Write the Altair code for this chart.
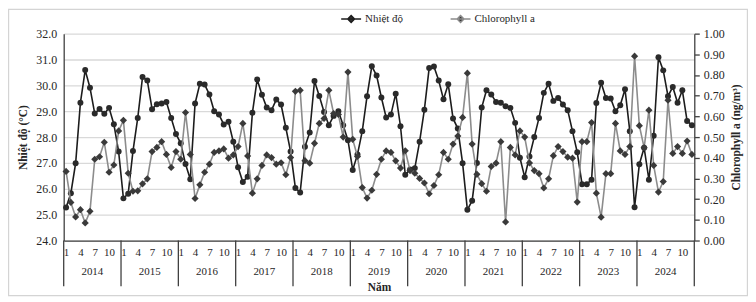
import altair as alt
import pandas as pd

years = ["2014", "2015", "2016", "2017", "2018", "2019", "2020", "2021", "2022", "2023", "2024"]
month_ticks = [1, 4, 7, 10]

# Nhiệt độ (°C), monthly Jan 2014 - Dec 2024
nhiet_do = [
    25.28, 25.83, 26.99, 29.33, 30.59, 29.91, 28.91, 29.09, 28.90, 29.13, 28.50, 27.44,
    25.63, 25.81, 27.46, 28.74, 30.32, 30.19, 29.08, 29.27, 29.30, 29.36, 28.74, 28.12,
    27.76, 26.96, 26.37, 29.30, 30.06, 30.03, 29.65, 29.00, 28.87, 28.49, 28.59, 27.82,
    26.83, 26.26, 26.47, 28.94, 30.23, 29.64, 29.14, 29.04, 29.45, 29.26, 28.36, 27.44,
    26.03, 25.86, 27.63, 28.18, 30.17, 29.59, 28.97, 28.46, 28.82, 29.00, 28.46, 27.88,
    26.73, 27.33, 28.23, 29.58, 30.74, 30.38, 29.53, 28.76, 28.87, 29.68, 28.42, 26.54,
    26.75, 26.80, 27.82, 29.06, 30.67, 30.73, 30.19, 29.46, 30.04, 28.72, 28.33, 26.99,
    25.19, 25.54, 27.00, 29.14, 29.81, 29.65, 29.36, 29.33, 29.19, 29.13, 28.55, 27.20,
    26.45, 27.25, 28.00, 28.74, 29.71, 30.06, 29.40, 29.51, 29.26, 29.04, 28.23, 27.41,
    26.18, 26.18, 26.35, 29.32, 30.10, 29.51, 29.49, 29.00, 29.23, 29.85, 28.23, 25.29,
    26.95, 27.59, 26.35, 28.05, 31.09, 30.58, 29.58, 29.94, 29.33, 29.81, 28.62, 28.46,
]

# Chlorophyll a (ng/m3), monthly Jan 2014 - Dec 2024
chlorophyll = [
    0.334, 0.184, 0.114, 0.149, 0.085, 0.141, 0.393, 0.405, 0.475, 0.330, 0.365, 0.530,
    0.581, 0.325, 0.238, 0.240, 0.274, 0.298, 0.430, 0.450, 0.478, 0.416, 0.353, 0.430,
    0.393, 0.619, 0.416, 0.203, 0.269, 0.330, 0.369, 0.426, 0.433, 0.443, 0.398, 0.414,
    0.454, 0.566, 0.409, 0.229, 0.298, 0.363, 0.414, 0.401, 0.369, 0.376, 0.318, 0.401,
    0.721, 0.726, 0.386, 0.374, 0.470, 0.566, 0.590, 0.726, 0.614, 0.609, 0.500, 0.814,
    0.489, 0.406, 0.256, 0.205, 0.243, 0.320, 0.393, 0.433, 0.426, 0.385, 0.350, 0.434,
    0.338, 0.325, 0.300, 0.278, 0.226, 0.266, 0.318, 0.426, 0.393, 0.466, 0.505, 0.595,
    0.809, 0.466, 0.320, 0.275, 0.238, 0.358, 0.374, 0.478, 0.090, 0.450, 0.414, 0.530,
    0.500, 0.375, 0.338, 0.323, 0.254, 0.298, 0.410, 0.454, 0.430, 0.403, 0.398, 0.186,
    0.478, 0.478, 0.570, 0.229, 0.113, 0.323, 0.323, 0.566, 0.433, 0.416, 0.454, 0.891,
    0.555, 0.449, 0.630, 0.363, 0.234, 0.285, 0.678, 0.421, 0.454, 0.421, 0.481, 0.416,
]

temp_ticks = [24, 25, 26, 27, 28, 29, 30, 31, 32]
chl_ticks = [0.0, 0.1, 0.2, 0.3, 0.4, 0.5, 0.6, 0.7, 0.8, 0.9, 1.0]
series_names = ["Nhiệt độ", "Chlorophyll a"]

n = len(nhiet_do)
idx = list(range(n))
df_t = pd.DataFrame({"idx": idx, "value": nhiet_do, "series": series_names[0]})
df_c = pd.DataFrame({"idx": idx, "value": chlorophyll, "series": series_names[1]})
tick_idx = [i for i in idx if (i % 12) + 1 in month_ticks]
df_years = pd.DataFrame({"idx": [12 * k + 5.5 for k in range(len(years))], "year": years})
df_sep = pd.DataFrame({"idx": [12 * k - 0.5 for k in range(len(years) + 1)]})

FONT = "Liberation Serif"
TXT = "#262626"
W, H = 634, 208
PAD = {"left": 56, "top": 25, "right": 54, "bottom": 56}

xscale = alt.Scale(domain=[-0.5, n - 0.5], nice=False, zero=False)
X = alt.X("idx:Q", scale=xscale, axis=alt.Axis(
    values=tick_idx, labelExpr="datum.value % 12 + 1", title="Năm",
    grid=False, ticks=False, labelPadding=6, labelFlush=False, labelOverlap=False,
    domainColor="#404040", domainWidth=1.3, labelFontSize=11, titleFontSize=11.5,
    titleFontWeight="bold", titlePadding=24))

color_scale = alt.Scale(domain=series_names, range=["#1c1c1c", "#8c8c8c"])
diamond_path = "M-1,0H1M0,-0.34L0.34,0L0,0.34L-0.34,0Z"
legend = alt.Legend(
    title=None, orient="none", legendX=278, legendY=-26, direction="horizontal",
    symbolType=diamond_path, symbolSize=400, symbolStrokeWidth=1.5,
    symbolFillColor="#333333",
    labelFont=FONT, labelFontSize=11, labelColor=TXT, labelOffset=3, columnPadding=44)

y_t = alt.Y("value:Q", scale=alt.Scale(domain=[24, 32], nice=False, zero=False),
            axis=alt.Axis(orient="left", values=temp_ticks, format=".1f", title="Nhiệt độ (°C)",
                          grid=True, gridColor="#d9d9d9", gridWidth=1.3, ticks=False,
                          domainColor="#404040", domainWidth=1.3, labelPadding=7,
                          labelFontSize=12, titleFontSize=11.5, titleFontWeight="bold",
                          titlePadding=7))
y_c = alt.Y("value:Q", scale=alt.Scale(domain=[0, 1], nice=False, zero=False),
            axis=alt.Axis(orient="right", values=chl_ticks, format=".2f",
                          title="Chlorophyll a (ng/m³)", grid=False, ticks=True, tickSize=5,
                          tickColor="#404040", tickWidth=1.3, domainColor="#404040",
                          domainWidth=1.3, labelPadding=4, labelFontSize=12,
                          titleFontSize=11.5, titleFontWeight="bold", titleAngle=270,
                          titlePadding=17))

t_line = alt.Chart(df_t).mark_line(strokeWidth=1.6).encode(
    x=X, y=y_t, color=alt.Color("series:N", scale=color_scale, legend=legend))
t_pts = alt.Chart(df_t).mark_point(shape="circle", filled=True, size=36, color="#2a2a2a", opacity=1).encode(
    x=X, y=y_t)
c_line = alt.Chart(df_c).mark_line(strokeWidth=1.6).encode(
    x=X, y=y_c, color=alt.Color("series:N", scale=color_scale, legend=legend))
c_pts = alt.Chart(df_c).mark_point(shape="diamond", filled=True, size=52, color="#3a3a3a", opacity=1).encode(
    x=X, y=y_c)

left = alt.layer(t_line, t_pts)
right = alt.layer(c_line, c_pts)

year_text = alt.Chart(df_years).mark_text(font=FONT, fontSize=11, color=TXT, baseline="middle").encode(
    x=X, y=alt.value(H + 32), text="year:N")
seps = alt.Chart(df_sep).mark_rule(color="#404040", strokeWidth=1.3).encode(
    x=X, y=alt.value(H), y2=alt.value(H + 46))
frame = alt.Chart(pd.DataFrame({"a": [0]})).mark_rect(fillOpacity=0, stroke="#d4d4d4", strokeWidth=1.2).encode(
    x=alt.value(-PAD["left"] + 0.6), x2=alt.value(W + PAD["right"] - 0.6),
    y=alt.value(-PAD["top"] + 0.6), y2=alt.value(H + PAD["bottom"] - 0.6))

chart = alt.layer(left, right, seps, year_text, frame).resolve_scale(y="independent").properties(
    width=W, height=H,
    padding=PAD,
    autosize=alt.AutoSizeParams(type="none"),
).configure_view(strokeOpacity=0).configure_axis(
    labelFont=FONT, titleFont=FONT, labelColor=TXT, titleColor=TXT
)

chart.save("out.html", embed_options={"renderer": "svg", "actions": False})
